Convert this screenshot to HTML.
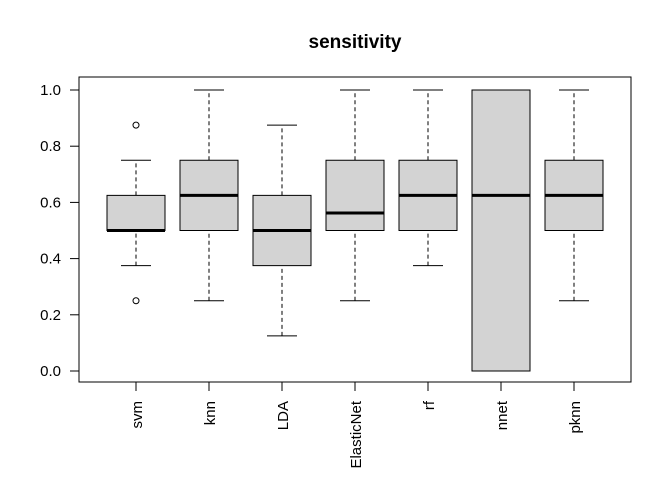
<!DOCTYPE html>
<html><head><meta charset="utf-8"><style>
body{margin:0;background:#fff;}
svg{display:block;font-family:"Liberation Sans",Arial,sans-serif;}
</style></head><body>
<svg id="chart" width="672" height="480">
<text x="355" y="48" text-anchor="middle" font-size="19" font-weight="bold">sensitivity</text>
<rect x="79" y="77" width="552" height="305" fill="none" stroke="#000"/>
<g id="yaxis"></g>
<g id="boxes"></g>
</svg>
<script>
const categories=["svm","knn","LDA","ElasticNet","rf","nnet","pknn"];
const whiskerLow=[0.375,0.25,0.125,0.25,0.375,0,0.25];
const q1=[0.5,0.5,0.375,0.5,0.5,0,0.5];
const medians=[0.5,0.625,0.5,0.5625,0.625,0.625,0.625];
const q3=[0.625,0.75,0.625,0.75,0.75,1,0.75];
const whiskerHigh=[0.75,1,0.875,1,1,1,1];
const outliers=[[0.875,0.25],[],[],[],[],[],[]];
const yTicks=[0,0.2,0.4,0.6,0.8,1.0];
const yTickLabels=["0.0","0.2","0.4","0.6","0.8","1.0"];
const NS="http://www.w3.org/2000/svg";
const y=v=>371-v*281;
const x=i=>136+i*73;
function mk(t,a,p){const e=document.createElementNS(NS,t);for(const k in a)e.setAttribute(k,a[k]);p.appendChild(e);return e;}
const ya=document.getElementById('yaxis');
mk('line',{x1:79,x2:79,y1:y(0),y2:y(1),stroke:'#000'},ya);
yTicks.forEach((v,i)=>{
 const l=mk('line',{x1:70,x2:79,y1:y(v),y2:y(v),stroke:'#000'},ya);
 
 
 const t=mk('text',{x:61,y:y(v)+5,'text-anchor':'end','font-size':15},ya);
 t.textContent=yTickLabels[i];
 
 
});
const bx=document.getElementById('boxes');
categories.forEach((c,i)=>{
 const cx=x(i),hw=29,cw=15;
 const g=mk('g',{},bx);
 
 
 mk('line',{x1:cx,x2:cx,y1:y(whiskerLow[i]),y2:y(q1[i]),stroke:'#000','stroke-dasharray':'4,3'},g);
 mk('line',{x1:cx,x2:cx,y1:y(q3[i]),y2:y(whiskerHigh[i]),stroke:'#000','stroke-dasharray':'4,3'},g);
 mk('line',{x1:cx-cw,x2:cx+cw,y1:y(whiskerLow[i]),y2:y(whiskerLow[i]),stroke:'#000'},g);
 mk('line',{x1:cx-cw,x2:cx+cw,y1:y(whiskerHigh[i]),y2:y(whiskerHigh[i]),stroke:'#000'},g);
 mk('rect',{x:cx-hw,y:y(q3[i]),width:2*hw,height:y(q1[i])-y(q3[i]),fill:'#d3d3d3',stroke:'#000'},g);
 mk('line',{x1:cx-hw,x2:cx+hw,y1:y(medians[i]),y2:y(medians[i]),stroke:'#000','stroke-width':3},g);
 outliers[i].forEach(o=>{
  const p=mk('circle',{cx:cx,cy:y(o),r:3,fill:'none',stroke:'#000'},g);
  
  
 });
 const tk=mk('line',{x1:cx,x2:cx,y1:382,y2:391,stroke:'#000'},bx);
 
 
 const t=mk('text',{x:0,y:0,'text-anchor':'end','font-size':15,transform:`translate(${cx+6},401) rotate(-90)`},bx);
 t.textContent=c;
 
 
});
</script>
</body></html>
